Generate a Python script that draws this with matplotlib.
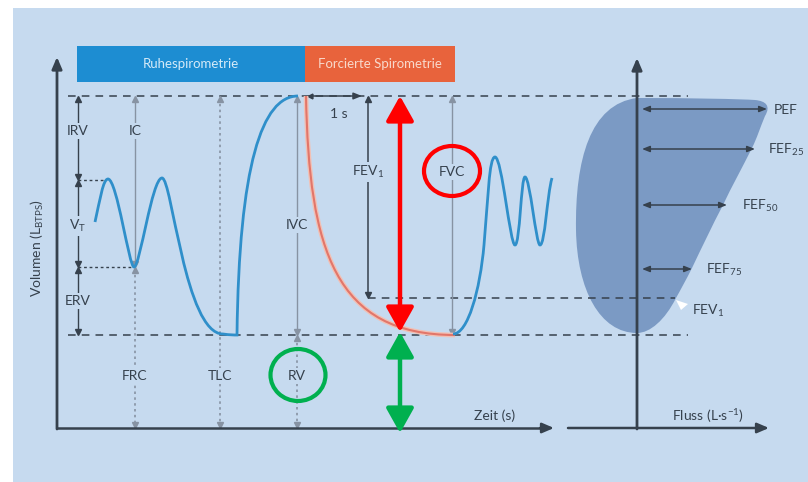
import matplotlib.pyplot as plt
from matplotlib.patches import Rectangle, Ellipse, PathPatch, Polygon
from matplotlib.path import Path

plt.rcParams['font.family'] = ['Lato', 'DejaVu Sans']

# volume levels of the diagram (drawing units, y grows downwards)
tlc = 96
tidal_top = 180
frc = 267
fev1_level = 298
rv = 335
base = 428

# spirogram, resting part: start point + cubic segments (c1, c2, end)
rest_start = (95, 222)
rest_segments = [
    (100, 200, 103, 179, 108, 179),
    (117, 179, 129, 267, 134, 267),
    (140, 267, 152, 178, 162, 178),
    (172, 178, 185, 334, 223, 334),
    (230, 335, 234, 335, 237, 335),
    (239, 165, 262, 96, 298, 96),
]
# forced expiration
forced_start = (306, 96)
forced_segments = [
    (309, 250, 335, 335, 455, 335),
]
# breathing after the forced manoeuvre
after_start = (453, 334)
after_segments = [
    (468, 334, 480, 290, 484, 245),
    (488, 200, 489, 157, 495, 157),
    (502, 157, 510, 245, 515, 245),
    (520, 245, 521, 177, 525, 177),
    (530, 177, 536, 245, 540, 245),
    (545, 245, 547, 195, 552, 178),
]
# flow-volume loop outline
loop_start = (637, 98)
loop_segments = [
    (690, 98, 740, 99, 755, 100),
    (766, 101, 771, 106, 765, 116),
    (760, 128, 757, 138, 752, 148),
    (742, 168, 732, 186, 723, 205),
    (712, 226, 702, 247, 692, 268),
    (686, 280, 681, 289, 676, 298),
    (665, 320, 650, 333, 637, 333),
    (600, 333, 577, 290, 576, 230),
    (575, 160, 590, 104, 637, 98),
]

# flow arrows (label, y, right end)
flow_labels = ['PEF', 'FEF$_\\mathregular{25}$', 'FEF$_\\mathregular{50}$', 'FEF$_\\mathregular{75}$']
flow_y = [109, 149, 205, 269]
flow_x = [767, 755, 727, 692]
flow_text_x = [774, 768, 742, 706]

bg = '#c6daef'
ink = '#36414d'
grey = '#8793a3'
fs = 10


def bezier(start, segments):
    verts = [start]
    codes = [Path.MOVETO]
    for s in segments:
        verts += [(s[0], s[1]), (s[2], s[3]), (s[4], s[5])]
        codes += [Path.CURVE4] * 3
    return Path(verts, codes)


def varrow(ax, x, y0, y1, color, lw=1.0, ls='-', ms=4):
    ax.plot([x, x], [y0 + 2, y1 - 2], color=color, lw=lw, ls=ls, zorder=3)
    ax.plot(x, y0 + 3, marker='^', color=color, ms=ms, zorder=3)
    ax.plot(x, y1 - 3, marker='v', color=color, ms=ms, zorder=3)


def label(ax, x, y, s, size=fs, color=ink, box=True, **kw):
    bb = dict(boxstyle='square,pad=0.12', fc=bg, ec='none') if box else None
    ax.text(x, y, s, fontsize=size, color=color, ha='center', va='center',
            bbox=bb, zorder=5, **kw)


fig = plt.figure(figsize=(8.08, 4.82), dpi=100)
ax = fig.add_axes([0, 0, 1, 1])
ax.set_xlim(0, 808)
ax.set_ylim(482, 0)
ax.axis('off')

ax.add_patch(Rectangle((13, 8), 800, 480, fc=bg, ec='none', zorder=0))

# header bars
ax.add_patch(Rectangle((77, 46), 228, 36, fc='#1d8dd2', ec='none', zorder=1))
ax.add_patch(Rectangle((305, 46), 150, 36, fc='#e8633c', ec='none', zorder=1))
ax.text(191, 64, 'Ruhespirometrie', fontsize=9.5, color='#d4eaf8', ha='center', va='center')
ax.text(380, 64, 'Forcierte Spirometrie', fontsize=9.5, color='#f8d9cb', ha='center', va='center')

# flow-volume loop
ax.add_patch(PathPatch(bezier(loop_start, loop_segments), fc='#7b9ac4', ec='none', zorder=1))

# axes
head = '-|>,head_length=0.7,head_width=0.3'
ax.annotate('', xy=(57, 57), xytext=(57, base + 1),
            arrowprops=dict(arrowstyle=head, color=ink, lw=2, shrinkA=0, shrinkB=0), zorder=4)
ax.plot([57, 540], [base, base], color=ink, lw=1.8, zorder=4)
ax.annotate('', xy=(554, base), xytext=(540, base),
            arrowprops=dict(arrowstyle=head, color=ink, lw=1.8, shrinkA=0, shrinkB=0), zorder=4)
ax.annotate('', xy=(637, 58), xytext=(637, base + 1),
            arrowprops=dict(arrowstyle=head, color=ink, lw=2, shrinkA=0, shrinkB=0), zorder=4)
ax.annotate('', xy=(769, base), xytext=(568, base),
            arrowprops=dict(arrowstyle=head, color=ink, lw=1.8, shrinkA=0, shrinkB=0), zorder=4)
ax.text(495, 416, 'Zeit (s)', fontsize=fs, color=ink, ha='center', va='center')
ax.text(708, 416, 'Fluss (L·s$^\\mathregular{-1}$)', fontsize=fs, color=ink, ha='center', va='center')
ax.text(37, 248, 'Volumen (L$_\\mathregular{BTPS}$)', fontsize=fs, color=ink, ha='center',
        va='center', rotation=90)

# dashed level lines
dash = dict(color=ink, lw=1.1, ls=(0, (5, 4)), zorder=2)
ax.plot([68, 688], [tlc, tlc], **dash)
ax.plot([68, 688], [rv, rv], **dash)
ax.plot([368, 675], [fev1_level, fev1_level], **dash)
dot = dict(color=ink, lw=1.0, ls=(0, (2, 2)), zorder=2)
ax.plot([78, 106], [tidal_top, tidal_top], **dot)
ax.plot([78, 133], [frc, frc], **dot)

# left volume arrows
varrow(ax, 78, tlc, tidal_top, ink, lw=1.0)
varrow(ax, 78, tidal_top, frc, ink, lw=1.0)
varrow(ax, 78, frc, rv, ink, lw=1.0)
label(ax, 78, 131, 'IRV')
label(ax, 78, 226, 'V$_\\mathregular{T}$')
label(ax, 78, 301, 'ERV')

varrow(ax, 135, tlc, frc, grey, lw=1.0)
label(ax, 135, 131, 'IC')
varrow(ax, 135, frc, base, grey, lw=1.2, ls=(0, (1.5, 2)))
label(ax, 135, 376, 'FRC')
varrow(ax, 220, tlc, base, grey, lw=1.2, ls=(0, (1.5, 2)))
label(ax, 220, 376, 'TLC')
varrow(ax, 297, tlc, rv, grey, lw=1.0)
label(ax, 297, 225, 'IVC')
varrow(ax, 297, rv, base, grey, lw=1.2, ls=(0, (1.5, 2)))
label(ax, 297, 376, 'RV')

# 1 s and FEV1, FVC
ax.annotate('', xy=(362, tlc), xytext=(310, tlc),
            arrowprops=dict(arrowstyle='-|>,head_length=0.5,head_width=0.2', color=ink, lw=1.1,
                            shrinkA=0, shrinkB=0), zorder=3)
ax.plot(310, tlc, marker='<', color=ink, ms=3.5, zorder=3)
ax.text(339, 114, '1 s', fontsize=fs, color=ink, ha='center', va='center')
varrow(ax, 368, tlc, fev1_level, ink, lw=1.1)
label(ax, 368, 172, 'FEV$_\\mathregular{1}$')
varrow(ax, 452, tlc, rv, grey, lw=1.0)
label(ax, 452, 172, 'FVC')

# spirogram curves
blue = '#2f8fca'
ax.add_patch(PathPatch(bezier(rest_start, rest_segments), fc='none', ec=blue, lw=2, zorder=4))
ax.add_patch(PathPatch(bezier(forced_start, forced_segments), fc='none', ec='#f2c0b4', lw=3.4, zorder=4))
ax.add_patch(PathPatch(bezier(forced_start, forced_segments), fc='none', ec='#e2766a', lw=1.5, zorder=4))
ax.add_patch(PathPatch(bezier(after_start, after_segments), fc='none', ec=blue, lw=2, zorder=4))

# flow arrows
for lab, y, x, tx in zip(flow_labels, flow_y, flow_x, flow_text_x):
    ax.annotate('', xy=(x, y), xytext=(642, y),
                arrowprops=dict(arrowstyle='<|-|>,head_length=0.45,head_width=0.18', color=ink,
                                lw=1.1, shrinkA=0, shrinkB=0), zorder=3)
    ax.text(tx, y + 1, lab, fontsize=fs, color=ink, ha='left', va='center')
ax.add_patch(Polygon([(676, 300), (688, 304), (681, 310)], fc='white', ec='none', zorder=3))
ax.text(692, 311, 'FEV$_\\mathregular{1}$', fontsize=fs, color=ink, ha='left', va='center')

# highlight arrows and circles
big = dict(arrowstyle='<|-|>,head_length=0.75,head_width=0.42', lw=3.2, shrinkA=0, shrinkB=0,
           mutation_scale=20)
ax.annotate('', xy=(400, tlc), xytext=(400, rv - 3), arrowprops=dict(color='#ff0000', **big), zorder=6)
ax.annotate('', xy=(400, rv - 3), xytext=(400, 433), arrowprops=dict(color='#00b04f', **big), zorder=6)
ax.add_patch(Ellipse((452, 171), 56, 50, fc='none', ec='#ff0000', lw=3, zorder=6))
ax.add_patch(Ellipse((298, 375), 55, 52, fc='none', ec='#00b04f', lw=3, zorder=6))

plt.savefig('out.png', dpi=100)
plt.close()
